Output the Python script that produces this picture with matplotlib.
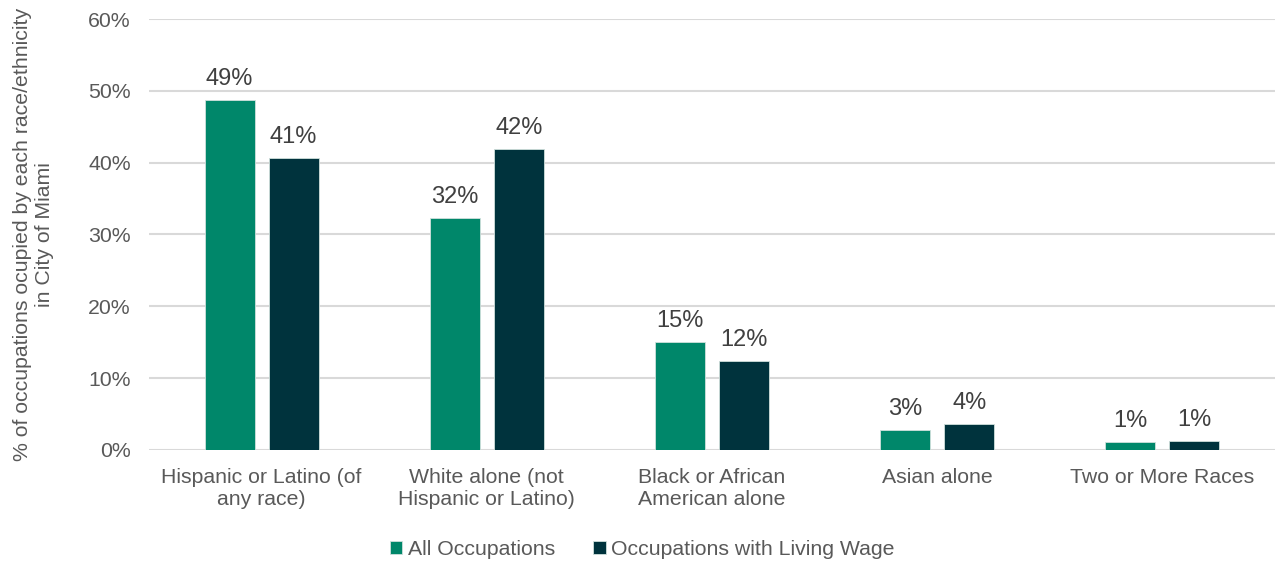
import numpy as np
import matplotlib.pyplot as plt

plt.rcParams['font.family'] = ['Liberation Sans', 'DejaVu Sans']

categories = ["Hispanic or Latino (of\nany race)", "White alone (not\nHispanic or Latino)",
              "Black or African\nAmerican alone", "Asian alone", "Two or More Races"]
all_occ = [48.7, 32.3, 15.0, 2.8, 1.1]
living_wage = [40.7, 41.9, 12.4, 3.6, 1.2]
series_names = ["All Occupations", "Occupations with Living Wage"]
colors = ["#00876A", "#00333D"]

fig = plt.figure(figsize=(12.75, 5.61), dpi=100)
ax = fig.add_axes([0.1169, 0.1979, 0.8831, 0.7682])

x = np.arange(len(categories))
w = 0.222
off = 0.142
for vals, name, c, sign in zip([all_occ, living_wage], series_names, colors, [-1, 1]):
    bars = ax.bar(x + sign * off, vals, width=w, color=c, label=name,
                  edgecolor="#d0e0dc", linewidth=0.6, zorder=3)
    for b, v in zip(bars, vals):
        ax.text(b.get_x() + b.get_width() / 2, v + 1.4, f"{v:.0f}%",
                ha="center", va="bottom", fontsize=17, color="#404040")

ax.set_xlim(-0.5, len(categories) - 0.5)
ax.set_ylim(0, 60)
ax.set_yticks(range(0, 61, 10))
ax.set_yticklabels([f"{t}%" for t in range(0, 61, 10)])
ax.set_xticks(x)
ax.set_xticklabels(categories)
ax.tick_params(axis="both", length=0, labelsize=15.3, colors="#595959")
ax.tick_params(axis="y", pad=13)
ax.tick_params(axis="x", pad=13)
ax.grid(axis="y", color="#d9d9d9", linewidth=1.5, zorder=0)
for s in ax.spines.values():
    s.set_visible(False)

ax.set_ylabel("% of occupations ocupied by each race/ethnicity\nin City of Miami",
              fontsize=15.3, color="#595959", labelpad=25)

ax.legend(loc="center", bbox_to_anchor=(0.438, -0.231), ncol=2, frameon=False,
          fontsize=15.3, labelcolor="#595959", handlelength=0.6, handleheight=0.6,
          handletextpad=0.25, columnspacing=1.8)

fig.savefig("out.png", dpi=100)
